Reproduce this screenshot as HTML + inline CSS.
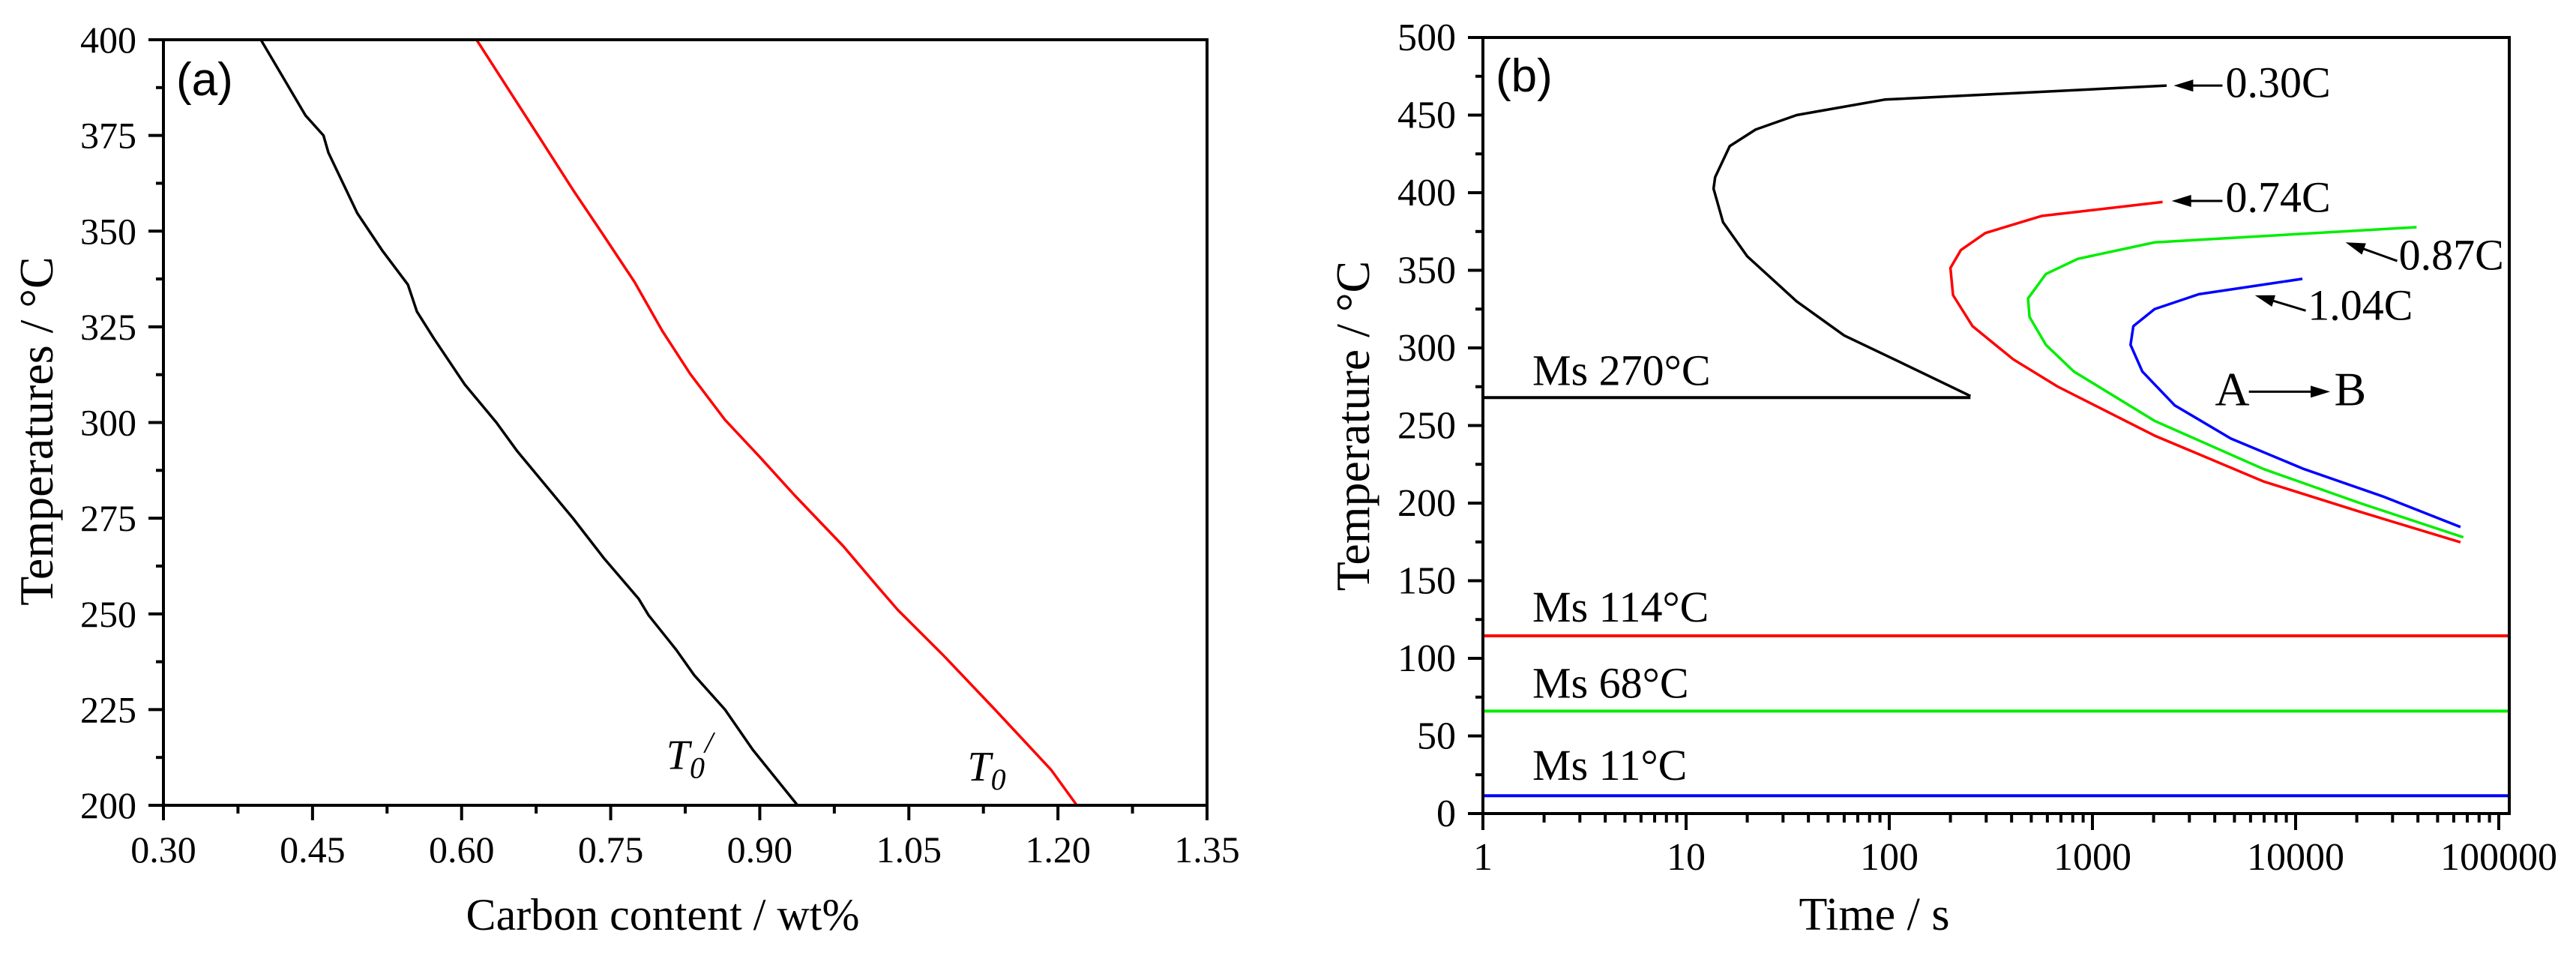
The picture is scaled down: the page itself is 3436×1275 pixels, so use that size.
<!DOCTYPE html>
<html><head><meta charset="utf-8"><style>
html,body{margin:0;padding:0;background:#fff;}
svg{display:block;font-family:"Liberation Serif","Times New Roman",serif;}
</style></head><body>
<svg id="chart" width="3436" height="1275" viewBox="0 0 3436 1275" xmlns="http://www.w3.org/2000/svg"></svg>
<script>
// ---- Panel (a) data ----
const aXTicks = [0.30,0.45,0.60,0.75,0.90,1.05,1.20,1.35];
const aXTickLabels = ["0.30","0.45","0.60","0.75","0.90","1.05","1.20","1.35"];
const aYTicks = [200,225,250,275,300,325,350,375,400];
const aT0pC = [0.398,0.443,0.461,0.466,0.495,0.52,0.546,0.555,0.572,0.603,0.635,0.656,0.712,0.743,0.778,0.788,0.816,0.834,0.865,0.893,0.938];
const aT0pT = [400,380.2,375,370.5,354.7,345,336,329,322,310,300,292.5,275,264.6,254,249.7,240.6,234,225,214.5,200];
const aT0C = [0.615,0.677,0.712,0.740,0.774,0.802,0.830,0.865,0.900,0.935,0.984,1.019,1.039,1.085,1.137,1.193,1.219];
const aT0T = [400,375,360.8,350,336.7,323.9,312.7,300.7,291,281,267.7,257,251,239.1,224.9,209.3,200];
// ---- Panel (b) data ----
const bXTicks = [1,10,100,1000,10000,100000];
const bXTickLabels = ["1","10","100","1000","10000","100000"];
const bYTicks = [0,50,100,150,200,250,300,350,400,450,500];
const c030t = [2318,95,35,22,16.4,13.9,13.65,15.2,20,35,60,114,251];
const c030T = [469,460,450,440.7,430,410,402.6,381,359,330,308,290.6,269];
const c074t = [2214,562,297,225,200,206,257,408,676,2022,6940,20750,64800];
const c074T = [394,385,374,363,351.5,334,314,292.6,275,243.5,214,194.4,174.8];
const c087t = [39400,2022,848,590,482,490,590,810,2022,6940,20750,66900];
const c087T = [377.8,368,357.4,347.6,331.9,320,302,284.8,253,222,200,178];
const c104t = [10800,3340,2022,1590,1540,1760,2540,4800,10970,27300,64800];
const c104T = [344.5,334.6,325,314,302,284.8,263,241.6,222,204,184.6];
const msValues = [268, 114.5, 66, 11.5];
const msLabels = ["Ms 270°C","Ms 114°C","Ms 68°C","Ms 11°C"];
const msLabelT = [276, 123.7, 74.6, 21.7];
const msColors = ["#000","#ff0000","#00ee00","#0000ff"];

const NS="http://www.w3.org/2000/svg";
const svg=document.getElementById('chart');
function mk(tag,attrs,parent){const e=document.createElementNS(NS,tag);for(const k in attrs)e.setAttribute(k,attrs[k]);(parent||svg).appendChild(e);return e;}

const aL=218,aR=1610,aTp=53,aB=1074;
const ax=v=>aL+(v-0.30)/(1.35-0.30)*(aR-aL);
const ay=v=>aB-(v-200)/200*(aB-aTp);
const bL=1978,bR=3347,bTp=50,bB=1085,dec=271;
const bx=t=>bL+Math.log10(t)*dec;
const by=v=>bB-v/500*(bB-bTp);

// ---------- Panel a ----------
const ga=mk('g',{});


for(let i=0;i<aXTicks.length;i++){
  const x=ax(aXTicks[i]);
  const t=mk('line',{x1:x,y1:aB,x2:x,y2:aB+20,stroke:'#000','stroke-width':4},ga);
  
  const lb=mk('text',{x:x,y:1150,'font-size':50,'text-anchor':'middle'},ga);lb.textContent=aXTickLabels[i];
  
  if(i<aXTicks.length-1){const xm=ax(aXTicks[i]+0.075);mk('line',{x1:xm,y1:aB,x2:xm,y2:aB+11,stroke:'#000','stroke-width':4},ga);}
}
for(let i=0;i<aYTicks.length;i++){
  const y=ay(aYTicks[i]);
  mk('line',{x1:aL-20,y1:y,x2:aL,y2:y,stroke:'#000','stroke-width':4},ga);
  const lb=mk('text',{x:182,y:y+17,'font-size':50,'text-anchor':'end'},ga);lb.textContent=aYTicks[i];
  
  if(i<aYTicks.length-1){const ym=ay(aYTicks[i]+12.5);mk('line',{x1:aL-10,y1:ym,x2:aL,y2:ym,stroke:'#000','stroke-width':4},ga);}
}
function poly(xs,ys,fx,fy,col,name,parent){
  const p=mk('polyline',{points:xs.map((v,i)=>fx(v)+','+fy(ys[i])).join(' '),fill:'none',stroke:col,'stroke-width':3.5,'stroke-linejoin':'round'},parent);
  return p;
}
poly(aT0pC,aT0pT,ax,ay,'#000','t0-prime-curve',ga);
poly(aT0C,aT0T,ax,ay,'#ff0000','t0-curve',ga);
const fa=mk('rect',{x:aL,y:aTp,width:aR-aL,height:aB-aTp,fill:'none',stroke:'#000','stroke-width':4},ga);

let t=mk('text',{x:235,y:127,'font-size':62,'font-family':'Liberation Sans, sans-serif'},ga);t.textContent='(a)';

t=mk('text',{x:ax(0.806),y:ay(209.5),'font-size':56,'font-style':'italic'},ga);
t.innerHTML='T<tspan font-size="40" dy="12">0</tspan><tspan font-size="40" dy="-34">/</tspan>';

t=mk('text',{x:ax(1.109),y:ay(206.5),'font-size':56,'font-style':'italic'},ga);
t.innerHTML='T<tspan font-size="40" dy="12">0</tspan>';

t=mk('text',{x:884,y:1240,'font-size':60,'text-anchor':'middle'},ga);t.textContent='Carbon content / wt%';

t=mk('text',{x:0,y:0,'font-size':64,'text-anchor':'middle',transform:'translate(70,575) rotate(-90)'},ga);t.textContent='Temperatures / °C';


// ---------- Panel b ----------
const gb=mk('g',{});


for(let i=0;i<bXTicks.length;i++){
  const x=bx(bXTicks[i]);
  mk('line',{x1:x,y1:bB,x2:x,y2:bB+22,stroke:'#000','stroke-width':4},gb);
  const lb=mk('text',{x:x,y:1160,'font-size':52,'text-anchor':'middle'},gb);lb.textContent=bXTickLabels[i];
  
  if(i<bXTicks.length-1){for(let m=2;m<=9;m++){const xm=bx(bXTicks[i]*m);mk('line',{x1:xm,y1:bB,x2:xm,y2:bB+12,stroke:'#000','stroke-width':4},gb);}}
}
for(let i=0;i<bYTicks.length;i++){
  const y=by(bYTicks[i]);
  mk('line',{x1:bL-20,y1:y,x2:bL,y2:y,stroke:'#000','stroke-width':4},gb);
  const lb=mk('text',{x:1942,y:y+17,'font-size':52,'text-anchor':'end'},gb);lb.textContent=bYTicks[i];
  
  if(i<bYTicks.length-1){const ym=by(bYTicks[i]+25);mk('line',{x1:bL-10,y1:ym,x2:bL,y2:ym,stroke:'#000','stroke-width':4},gb);}
}
poly(c030t,c030T,bx,by,'#000','curve-0-30c',gb);
poly(c074t,c074T,bx,by,'#ff0000','curve-0-74c',gb);
poly(c087t,c087T,bx,by,'#00ee00','curve-0-87c',gb);
poly(c104t,c104T,bx,by,'#0000ff','curve-1-04c',gb);
for(let i=0;i<msValues.length;i++){
  const x2 = i===0 ? bx(c030t[c030t.length-1]) : bR;
  const l=mk('line',{x1:bL,y1:by(msValues[i]),x2:x2,y2:by(msValues[i]),stroke:msColors[i],'stroke-width':4},gb);
  
  const lb=mk('text',{x:2044,y:by(msLabelT[i]),'font-size':58},gb);lb.textContent=msLabels[i];
  
}
const fb=mk('rect',{x:bL,y:bTp,width:bR-bL,height:bB-bTp,fill:'none',stroke:'#000','stroke-width':4},gb);

function arrow(t1,T1,t2,T2,name){
  const x1=bx(t1),y1=by(T1),x2=bx(t2),y2=by(T2);
  const a=Math.atan2(y2-y1,x2-x1),L=26,W=8;
  const g=mk('g',{},gb);
  
  mk('line',{x1:x1,y1:y1,x2:x2-Math.cos(a)*L*0.8,y2:y2-Math.sin(a)*L*0.8,stroke:'#000','stroke-width':3},g);
  const px=x2-Math.cos(a)*L,py=y2-Math.sin(a)*L;
  mk('polygon',{points:`${x2},${y2} ${px+Math.sin(a)*W},${py-Math.cos(a)*W} ${px-Math.sin(a)*W},${py+Math.cos(a)*W}`,fill:'#000'},g);
}
function lab(tt,T,s,fs,name){const e=mk('text',{x:bx(tt),y:by(T),'font-size':fs},gb);e.textContent=s;}
arrow(Math.pow(10,3.64),469,Math.pow(10,3.40),469,'arrow-0-30c');
lab(Math.pow(10,3.655),461.5,'0.30C',58,'label-0-30c');
arrow(Math.pow(10,3.64),394.7,Math.pow(10,3.39),394.7,'arrow-0-74c');
lab(Math.pow(10,3.655),387.7,'0.74C',58,'label-0-74c');
arrow(Math.pow(10,4.50),356,Math.pow(10,4.246),368,'arrow-0-87c');
lab(Math.pow(10,4.508),350.4,'0.87C',58,'label-0-87c');
arrow(Math.pow(10,4.05),324,Math.pow(10,3.80),333.9,'arrow-1-04c');
lab(Math.pow(10,4.06),318,'1.04C',58,'label-1-04c');
lab(Math.pow(10,3.603),263,'A',64,'label-a');
arrow(Math.pow(10,3.77),271.8,Math.pow(10,4.17),271.8,'arrow-a-to-b');
lab(Math.pow(10,4.19),263,'B',64,'label-b');
t=mk('text',{x:1995,y:122,'font-size':62,'font-family':'Liberation Sans, sans-serif'},gb);t.textContent='(b)';

t=mk('text',{x:2500,y:1240,'font-size':62,'text-anchor':'middle'},gb);t.textContent='Time / s';

t=mk('text',{x:0,y:0,'font-size':64,'text-anchor':'middle',transform:'translate(1826,568) rotate(-90)'},gb);t.textContent='Temperature / °C';

</script>
</body></html>
